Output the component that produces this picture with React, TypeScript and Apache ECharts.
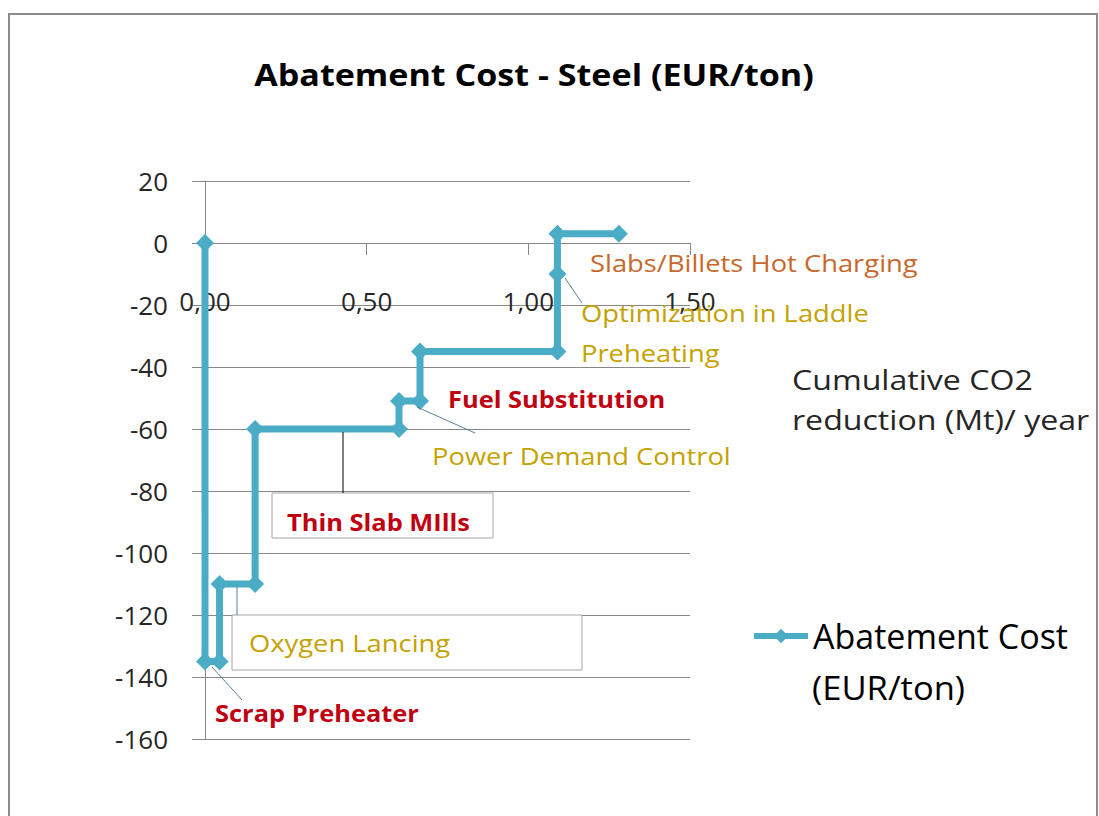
import React, { useEffect, useRef } from "react";
import * as echarts from "echarts";

// ---- data ----
const cumulativeReduction = [0, 0, 0.045, 0.045, 0.155, 0.155, 0.6, 0.6, 0.665, 0.665, 1.09, 1.09, 1.09, 1.28];
const abatementCost = [0, -135, -135, -110, -110, -60, -60, -51, -51, -35, -35, -10, 3, 3];
const seriesName = "Abatement Cost (EUR/ton)";
const legendLines = ["Abatement Cost", "(EUR/ton)"];
const titleText = "Abatement Cost - Steel (EUR/ton)";
const xAxisTitleLines = ["Cumulative CO2", "reduction (Mt)/ year"];
const measureNames = [
  "Scrap Preheater",
  "Oxygen Lancing",
  "Thin Slab MIlls",
  "Power Demand Control",
  "Fuel Substitution",
  "Optimization in Laddle\nPreheating",
  "Slabs/Billets Hot Charging",
];

// ---- styles ----
const FONT = "'Open Sans', 'Noto Sans', sans-serif";
const LINE_COLOR = "#4BACC6";
const RED = "#C00010";
const GOLD = "#C4A200";
const ORANGE = "#C8682C";
const GRID_COLOR = "#878787";
const TEXT_COLOR = "#262626";

// annotation layout (pixel positions in the 1099x816 frame)
const annotationLayout = [
  { color: RED, bold: true, x: 215, y: 713, leader: [212, 667, 242, 700] },
  { color: GOLD, bold: false, x: 249, y: 643, box: [232, 615, 350, 55], leader: [237, 587, 237, 615] },
  { color: RED, bold: true, x: 287, y: 522, box: [272, 493, 221, 45], leader: [343, 432, 343, 493], leaderColor: "#000" },
  { color: GOLD, bold: false, x: 432, y: 456, leader: [417, 407, 475, 433] },
  { color: RED, bold: true, x: 448, y: 399 },
  { color: GOLD, bold: false, x: 581, y: 333, lineHeight: 40, leader: [565, 278, 582, 303] },
  { color: ORANGE, bold: false, x: 590, y: 263 },
];

export default function App() {
  const ref = useRef<HTMLDivElement>(null);

  useEffect(() => {
    if (!ref.current) return;
    const chart = echarts.init(ref.current, undefined, { renderer: "svg" });

    const graphics: any[] = [
      {
        type: "rect",
        shape: { x: 9, y: 14, width: 1088, height: 830 },
        style: { fill: "none", stroke: "#8c8c8c", lineWidth: 2 },
        z: 0,
        silent: true,
      },
    ];

    annotationLayout.forEach((a, i) => {
      if (a.box) {
        graphics.push({
          type: "rect",
          shape: { x: a.box[0], y: a.box[1], width: a.box[2], height: a.box[3] },
          style: { fill: "#fff", stroke: "#a6a6a6", lineWidth: 1 },
          z: 50,
        });
      }
      if (a.leader) {
        graphics.push({
          type: "line",
          shape: { x1: a.leader[0], y1: a.leader[1], x2: a.leader[2], y2: a.leader[3] },
          style: { stroke: (a as any).leaderColor || "#5a7f95", lineWidth: 1 },
          z: 51,
        });
      }
      graphics.push({
        type: "text",
        x: a.x,
        y: a.y,
        scaleX: a.bold ? 1.06 : 1.14,
        style: {
          text: measureNames[i],
          fill: a.color,
          font: `${a.bold ? "bold " : ""}24px ${FONT}`,
          textAlign: "left",
          textVerticalAlign: "middle",
          lineHeight: (a as any).lineHeight || 30,
        },
        z: 52,
      });
    });

    graphics.push({
      type: "text",
      x: 534,
      y: 74,
      scaleX: 1.1,
      style: {
        text: titleText,
        fill: "#000",
        font: `bold 31px ${FONT}`,
        textAlign: "center",
        textVerticalAlign: "middle",
      },
    });
    graphics.push({
      type: "text",
      x: 792,
      y: 400,
      scaleX: 1.19,
      style: {
        text: xAxisTitleLines.join("\n"),
        fill: TEXT_COLOR,
        font: `27px ${FONT}`,
        textAlign: "left",
        textVerticalAlign: "middle",
        lineHeight: 40,
      },
    });
    graphics.push({
      type: "text",
      x: 812,
      y: 688,
      scaleX: 1.08,
      style: {
        text: legendLines[1],
        fill: "#000",
        font: `32px ${FONT}`,
        textAlign: "left",
        textVerticalAlign: "middle",
      },
    });

    chart.setOption({
      animation: false,
      textStyle: { fontFamily: FONT },
      grid: { left: 205, right: 409, top: 181, bottom: 77, containLabel: false },
      legend: {
        orient: "vertical",
        left: 746,
        top: 614,
        itemWidth: 54,
        itemHeight: 18,
        data: [seriesName],
        formatter: () => legendLines[0],
        textStyle: { fontSize: 34, color: "#000", fontFamily: FONT },
        lineStyle: { width: 6, color: LINE_COLOR },
        itemStyle: { color: LINE_COLOR },
        selectedMode: false,
      },
      xAxis: {
        type: "value",
        min: 0,
        max: 1.5,
        interval: 0.5,
        axisLine: { onZero: true, lineStyle: { color: GRID_COLOR, width: 1 } },
        axisTick: { show: true, length: 12, lineStyle: { color: GRID_COLOR } },
        axisLabel: {
          margin: -451,
          fontSize: 26,
          color: TEXT_COLOR,
          formatter: (v: number) => v.toFixed(2).replace(".", ","),
        },
        splitLine: { show: false },
      },
      yAxis: {
        type: "value",
        min: -160,
        max: 20,
        interval: 20,
        axisLine: { show: true, lineStyle: { color: GRID_COLOR, width: 1 } },
        axisTick: { show: true, length: 13, lineStyle: { color: GRID_COLOR } },
        axisLabel: { margin: 37, fontSize: 26, color: TEXT_COLOR },
        splitLine: { show: true, lineStyle: { color: GRID_COLOR, width: 1 } },
      },
      series: [
        {
          name: seriesName,
          type: "line",
          data: cumulativeReduction.map((x, i) => [x, abatementCost[i]]),
          symbol: "diamond",
          symbolSize: 18,
          lineStyle: { color: LINE_COLOR, width: 7 },
          itemStyle: { color: LINE_COLOR },
          z: 10,
        },
      ],
      graphic: graphics,
    });

    return () => chart.dispose();
  }, []);

  return (
    <div
      ref={ref}
      style={{ position: "fixed", left: 0, top: 0, width: 1099, height: 816, background: "#fff" }}
    />
  );
}
